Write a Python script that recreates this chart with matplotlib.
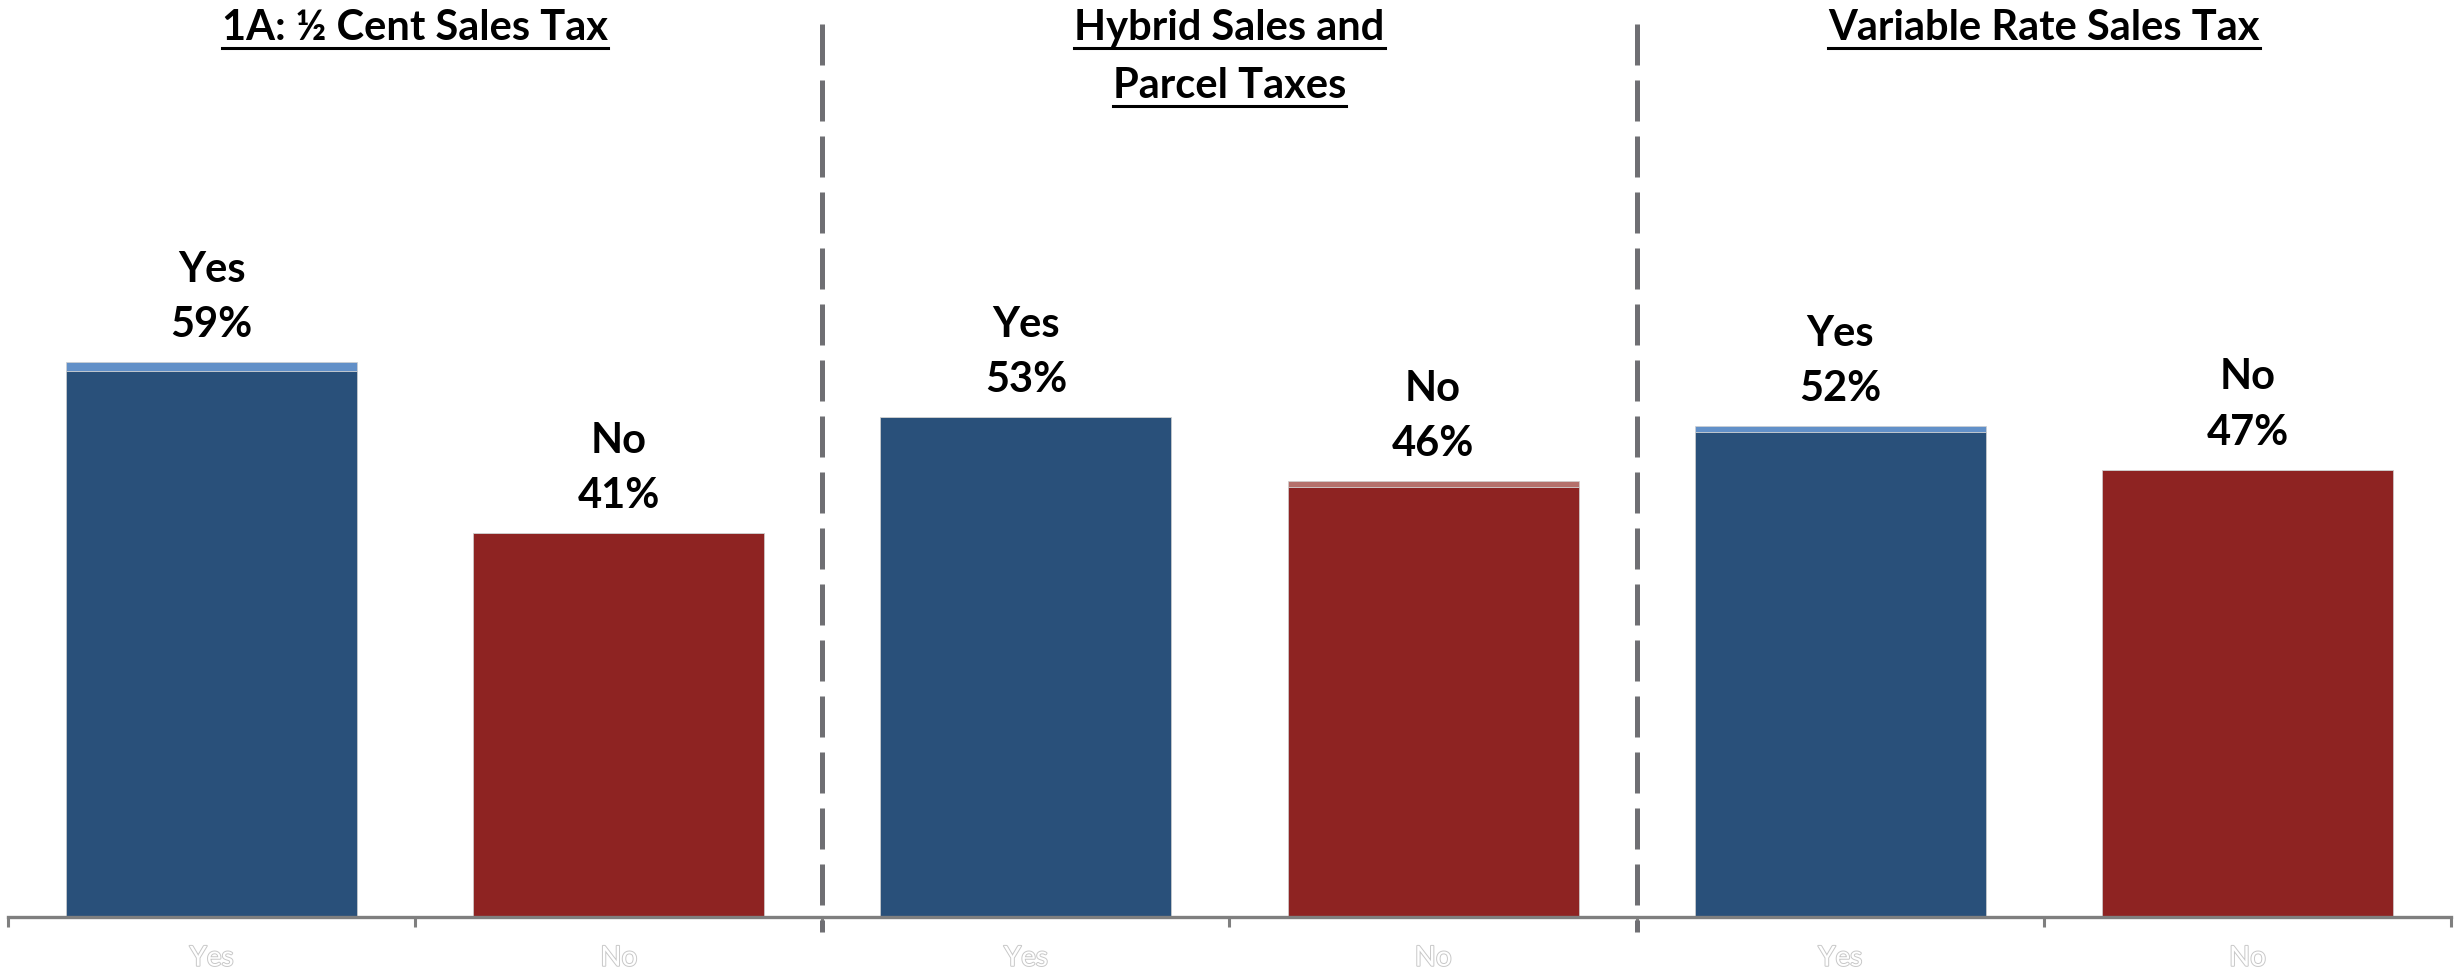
import matplotlib
matplotlib.use('Agg')
import matplotlib.pyplot as plt
import matplotlib.patheffects as pe
from matplotlib.lines import Line2D
import numpy as np

# data
groups = ['1A: ½ Cent Sales Tax', 'Hybrid Sales and\nParcel Taxes', 'Variable Rate Sales Tax']
categories = ['Yes', 'No']
yes_main = [58.1, 53.2, 51.6]
yes_extra = [0.9, 0.0, 0.6]
no_main = [40.8, 45.7, 47.6]
no_extra = [0.0, 0.7, 0.0]
yes_labels = ['59%', '53%', '52%']
no_labels = ['41%', '46%', '47%']

DARK_BLUE = '#29507a'
LIGHT_BLUE = '#6290c8'
DARK_RED = '#8e2322'
LIGHT_RED = '#b5706b'
GRAY = '#6f6f73'

plt.rcParams['font.family'] = ['Lato', 'DejaVu Sans']

W, H = 2459, 972
fig = plt.figure(figsize=(W / 100, H / 100), dpi=100)
ax = fig.add_axes([8 / W, (H - 917) / H, (2451 - 8) / W, 917 / H])

n = len(groups)
x_yes = np.arange(n) * 2
x_no = x_yes + 1
width = 0.715

ax.bar(x_yes, yes_main, width, color=DARK_BLUE, edgecolor='#d0d0d0', linewidth=0.5)
ax.bar(x_yes, yes_extra, width, bottom=yes_main, color=LIGHT_BLUE, edgecolor='#d0d0d0', linewidth=0.5)
ax.bar(x_no, no_main, width, color=DARK_RED, edgecolor='#d0d0d0', linewidth=0.5)
ax.bar(x_no, no_extra, width, bottom=no_main, color=LIGHT_RED, edgecolor='#d0d0d0', linewidth=0.5)

ymax = 97.55
ax.set_xlim(-0.5, 2 * n - 0.5)
ax.set_ylim(0, ymax)

# value labels above bars
tops_yes = np.array(yes_main) + np.array(yes_extra)
tops_no = np.array(no_main) + np.array(no_extra)
for xs, tops, cat, labs in [(x_yes, tops_yes, categories[0], yes_labels),
                            (x_no, tops_no, categories[1], no_labels)]:
    for x, t, lab in zip(xs, tops, labs):
        ax.annotate(cat + '\n' + lab, (x, t), xytext=(0, 18), textcoords='offset pixels',
                    ha='center', va='bottom', fontsize=30, fontweight='bold',
                    linespacing=1.55)

# axis styling
for s in ['top', 'right', 'left']:
    ax.spines[s].set_visible(False)
ax.spines['bottom'].set_color('#7f7f7f')
ax.spines['bottom'].set_linewidth(2.4)
ax.set_yticks([])
ax.set_xticks(np.arange(-0.5, 2 * n, 1.0))
ax.set_xticklabels([])
ax.tick_params(axis='x', which='major', length=7.5, width=2.2, color='#7f7f7f', direction='out')
ax.set_xticks(np.arange(2 * n), minor=True)
ax.set_xticklabels(categories * n, minor=True)
ax.tick_params(axis='x', which='minor', length=0, pad=20, labelsize=20, labelcolor='white')
for t in ax.get_xticklabels(minor=True):
    t.set_path_effects([pe.withStroke(linewidth=1.4, foreground='#c8c8c8')])

# dashed separators
for i in range(1, n):
    ax.plot([2 * i - 0.5, 2 * i - 0.5], [ymax * (917 - 24) / 917, -ymax * 15 / 917],
            color=GRAY, linewidth=3.6, dashes=(8.2, 3.0), clip_on=False,
            solid_capstyle='butt', dash_capstyle='butt')

# underlined group titles
trans = matplotlib.transforms.blended_transform_factory(ax.transData, fig.transFigure)
baselines = [40, 98]
title_texts = []
for i, g in enumerate(groups):
    for j, line in enumerate(g.split('\n')):
        t = fig.text(2 * i + 0.5, 1 - baselines[j] / H, line, transform=trans,
                     ha='center', va='baseline', fontsize=30, fontweight='bold')
        title_texts.append((t, baselines[j]))

fig.canvas.draw()
renderer = fig.canvas.get_renderer()
for t, b in title_texts:
    bb = t.get_window_extent(renderer)
    y = 1 - (b + 8) / H
    fig.add_artist(Line2D([bb.x0 / W, bb.x1 / W], [y, y], transform=fig.transFigure,
                          color='black', linewidth=2.2))

fig.savefig('out.png', dpi=100)
